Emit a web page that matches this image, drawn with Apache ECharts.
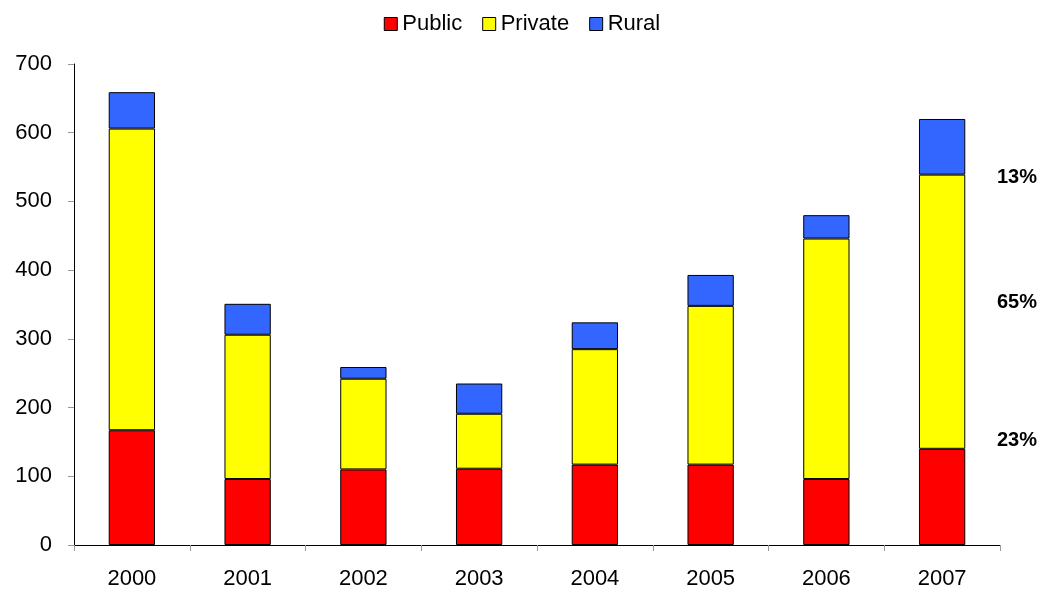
<!DOCTYPE html>
<html>
<head>
<meta charset="utf-8">
<script src="https://cdn.jsdelivr.net/npm/echarts@6/dist/echarts.min.js"></script>
<style>
  html, body { margin: 0; padding: 0; background: #fff; }
  #chart { width: 1044px; height: 591px; }
</style>
</head>
<body>
<div id="chart"></div>
<script>
// data
var years = ["2000", "2001", "2002", "2003", "2004", "2005", "2006", "2007"];
var publicData = [167, 96, 110, 111, 117, 117, 96, 140];
var privateData = [439, 210, 132, 80, 168, 231, 350, 399];
var ruralData = [53, 45, 17, 44, 39, 45, 34, 81];
var shareLabels = ["13%", "65%", "23%"];

var font = "'Liberation Sans', Arial, sans-serif";

function barSeries(name, color, data) {
	return {
		name: name,
		type: "bar",
		stack: "total",
		barWidth: "40%",
		data: data,
		itemStyle: {
			color: color,
			borderColor: "#000",
			borderWidth: 1
		}
	};
}

function shareText(text, y) {
	return {
		type: "text",
		x: 997,
		y: y,
		style: {
			text: text,
			font: "bold 20px " + font,
			fill: "#000",
			verticalAlign: "middle"
		}
	};
}

var chart = echarts.init(document.getElementById("chart"));
var option = {
	backgroundColor: "#fff",
	animation: false,
	textStyle: { fontFamily: font },
	legend: {
		top: 8,
		left: "center",
		itemWidth: 13,
		itemHeight: 13,
		itemGap: 20,
		icon: "rect",
		textStyle: { fontSize: 22, color: "#000", fontFamily: font },
		itemStyle: { borderColor: "#000", borderWidth: 1 },
		data: ["Public", "Private", "Rural"]
	},
	grid: {
		left: 74,
		right: 44,
		top: 64,
		bottom: 46,
		containLabel: false
	},
	xAxis: {
		type: "category",
		data: years,
		axisLine: { lineStyle: { color: "#000", width: 1 } },
		axisTick: { show: true, length: 6, lineStyle: { color: "#999" } },
		axisLabel: { fontSize: 22, color: "#000", margin: 23, fontFamily: font }
	},
	yAxis: {
		type: "value",
		min: 0,
		max: 700,
		interval: 100,
		splitLine: { show: false },
		axisLine: { show: true, lineStyle: { color: "#000", width: 1 } },
		axisTick: { show: true, length: 6, lineStyle: { color: "#999" } },
		axisLabel: { fontSize: 22, color: "#000", margin: 22, fontFamily: font }
	},
	graphic: [
		shareText(shareLabels[0], 177),
		shareText(shareLabels[1], 302),
		shareText(shareLabels[2], 440)
	],
	series: [
		barSeries("Public", "#ff0000", publicData),
		barSeries("Private", "#ffff00", privateData),
		barSeries("Rural", "#3366ff", ruralData)
	]
};
chart.setOption(option);
</script>
</body>
</html>
